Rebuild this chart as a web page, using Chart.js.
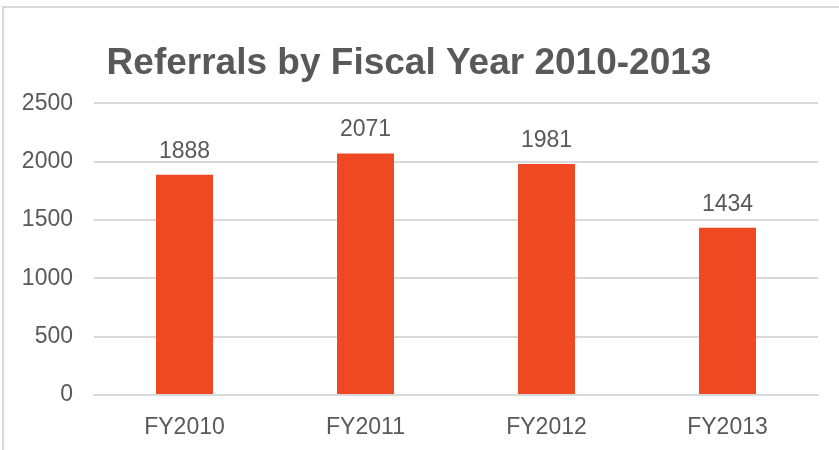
<!DOCTYPE html>
<html>
<head>
<meta charset="utf-8">
<script src="https://cdn.jsdelivr.net/npm/chart.js@4"></script>
<style>
	body { margin: 0; background: #fff; }
	#frame { position: absolute; left: 2px; top: 6px; width: 840px; height: 450px; border-top: 2px solid #d9d9d9; border-left: 2px solid #d9d9d9; }
	#wrap { position: absolute; left: 0; top: 0; width: 839px; height: 450px; }
</style>
</head>
<body>
<div id="frame"></div>
<div id="wrap"><canvas id="bar-chart-referrals" width="839" height="450"></canvas></div>
<script>
"use strict";

const years = ["FY2010", "FY2011", "FY2012", "FY2013"];
const referrals = [1888, 2071, 1981, 1434];
const yTicks = [0, 500, 1000, 1500, 2000, 2500];

const textColor = "#595959";
const fontFamily = "Arial, 'Liberation Sans', sans-serif";

// values above each bar
const barLabels = {
	id: "barLabels",
	afterDatasetsDraw(chart) {
		const ctx = chart.ctx;
		const meta = chart.getDatasetMeta(0);
		ctx.save();
		ctx.font = "23px " + fontFamily;
		ctx.fillStyle = textColor;
		ctx.textAlign = "center";
		ctx.textBaseline = "alphabetic";
		meta.data.forEach((bar, i) => {
			ctx.fillText(String(chart.data.datasets[0].data[i]), bar.x, bar.y - 17);
		});
		ctx.restore();
	}
};

displayBarChartReferrals(years, referrals);

function displayBarChartReferrals(labels, values) {
	const ctx = document.querySelector("#bar-chart-referrals").getContext('2d');
	new Chart(ctx, {
		type: 'bar',
		data: {
			labels: labels,
			datasets: [{
				data: values,
				backgroundColor: '#EF4923',
				barPercentage: 0.315,
				categoryPercentage: 1
			}]
		},
		plugins: [barLabels],
		options: {
			responsive: false,
			animation: false,
			layout: { padding: { left: 0, right: 21, top: 0, bottom: 0 } },
			plugins: {
				legend: { display: false },
				tooltip: { enabled: false },
				title: {
					display: true,
					text: 'Referrals by Fiscal Year 2010-2013',
					color: textColor,
					font: { family: fontFamily, size: 37, weight: 'bold' },
					padding: { top: 42, bottom: 17 }
				}
			},
			scales: {
				x: {
					afterFit: (scale) => { scale.height = 55; },
					grid: { display: false, drawTicks: false },
					border: { color: '#d9d9d9', width: 2 },
					ticks: {
						color: textColor,
						padding: 19,
						font: { family: fontFamily, size: 23 }
					}
				},
				y: {
					min: yTicks[0],
					max: yTicks[yTicks.length - 1],
					afterBuildTicks: (scale) => { scale.ticks = yTicks.map(v => ({ value: v })); },
					afterFit: (scale) => { scale.width = 94; },
					grid: { color: '#d9d9d9', lineWidth: 2, drawTicks: false },
					border: { display: false },
					ticks: {
						color: textColor,
						padding: 21,
						font: { family: fontFamily, size: 23 },
						callback: (v) => String(v)
					}
				}
			}
		}
	});
}
</script>
</body>
</html>
